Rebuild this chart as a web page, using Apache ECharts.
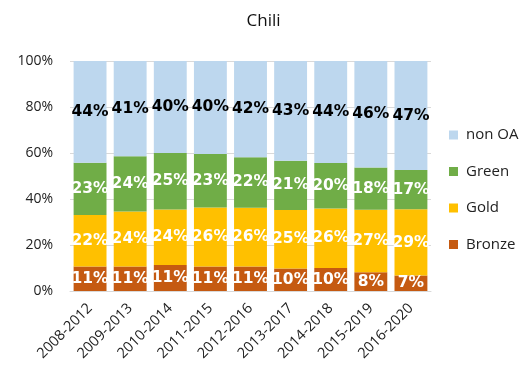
<!DOCTYPE html>
<html><head><meta charset="utf-8">
<script src="https://cdn.jsdelivr.net/npm/echarts@6/dist/echarts.min.js"></script>
<style>html,body{margin:0;padding:0;background:#fff}#c{width:527px;height:371px}</style>
</head><body><div id="c"></div>
<script>
const categories = ['2008-2012','2009-2013','2010-2014','2011-2015','2012-2016','2013-2017','2014-2018','2015-2019','2016-2020'];
const bronze = [10.6, 10.6, 11.3, 10.6, 10.6, 9.8, 10.0, 8.2, 6.7];
const gold   = [22.4, 24.0, 24.1, 25.7, 25.6, 25.4, 25.9, 27.1, 28.8];
const green  = [22.8, 24.0, 24.6, 23.3, 22.0, 21.4, 19.8, 18.4, 17.1];
const nonOA  = [44.2, 41.4, 40.0, 40.4, 41.8, 43.4, 44.3, 46.3, 47.4];
const yTicks = ['0%','20%','40%','60%','80%','100%'];

const chart = echarts.init(document.getElementById('c'), null, {renderer:'canvas'});
const labelFont = 'DejaVu Sans';
function mk(name, data, color, labelColor){
  return {name, type:'bar', stack:'t', data, barWidth:'82%',
    itemStyle:{color},
    label:{show:true, position:'inside', color:labelColor, fontFamily:labelFont, fontWeight:'bold', fontSize:15.5,
      formatter:p=>Math.round(p.value)+'%'}};
}
chart.setOption({
  animation:false,
  title:{text:'Chili', left:'center', top:8, textStyle:{fontFamily:'Open Sans', fontWeight:'normal', fontSize:17, color:'#111'}},
  grid:{left:70, right:96, top:61, bottom:80},
  legend:{orient:'vertical', left:444, top:122, itemWidth:9, itemHeight:9, itemGap:20.5,
    textStyle:{fontFamily:'Open Sans', fontSize:15, lineHeight:16, color:'#222', padding:[0,0,0,3]},
    icon:'rect', data:['non OA','Green','Gold','Bronze']},
  xAxis:{type:'category', data:categories,
    axisLine:{lineStyle:{color:'#d9d9d9', width:1}}, axisTick:{show:false},
    axisLabel:{rotate:45, interval:0, fontFamily:'Open Sans', fontSize:14.5, color:'#222', margin:15}},
  yAxis:{type:'value', min:0, max:100, interval:20,
    axisLabel:{fontFamily:'Open Sans', fontSize:14, color:'#222', margin:17, formatter:v=>yTicks[v/20]},
    splitLine:{lineStyle:{color:'#d9d9d9'}}},
  series:[
    mk('Bronze', bronze, '#C55A11', '#fff'),
    mk('Gold', gold, '#FFC000', '#fff'),
    mk('Green', green, '#70AD47', '#fff'),
    mk('non OA', nonOA, '#BDD7EE', '#000')
  ]
});
</script></body></html>
